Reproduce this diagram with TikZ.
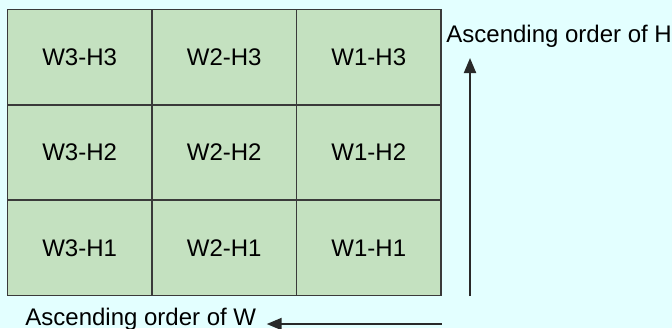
\documentclass[tikz,border=0pt]{standalone}
\usepackage{fontspec}
\setmainfont{Liberation Sans}
\usetikzlibrary{arrows.meta,positioning}
\definecolor{bgcyan}{HTML}{E3FFFF}
\definecolor{cellgreen}{HTML}{C4E1C0}
\definecolor{gridline}{HTML}{3A3A3A}
\tikzset{
  cell/.style={draw=gridline,line width=.7pt,fill=cellgreen,minimum width=72.35pt,minimum height=47.65pt,inner sep=0pt},
  order/.style={inner sep=0pt,anchor=base west},
}

\begin{document}
\begin{tikzpicture}[x=.5pt,y=-.5pt,>={Triangle[length=7.5pt,width=6pt]},font=\fontsize{12}{14}\selectfont]
\fill[bgcyan] (0,0) rectangle (672,328);
\useasboundingbox (0,0) rectangle (672,328);
\foreach \c/\w in {1/3,2/2,3/1}{
  \foreach \r/\h in {1/3,2/2,3/1}{
    \node[cell] (w\w h\h) at ({7.3+144.6*(\c-.5)},{9.5+95.3*(\r-.5)}) {W\w-H\h};
  }
}
\node[order] (hlabel) at (446,42) {Ascending order of H};
\node[order] (wlabel) at (25,325) {Ascending order of W};
\coordinate (hstart) at (470,296);
\coordinate (htip) at (470,58);
\coordinate (wstart) at (441.7,324);
\coordinate (wtip) at (266.7,324);
\draw[->,line width=1pt,gridline!70!black] (hstart) -- (htip);
\draw[->,line width=1pt,gridline!70!black] (wstart) -- (wtip);
\end{tikzpicture}
\end{document}
